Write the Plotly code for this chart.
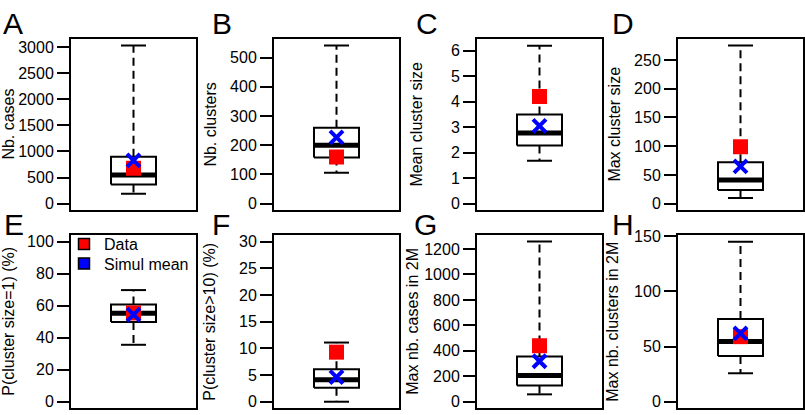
import plotly.graph_objects as go

panels = ["A", "B", "C", "D", "E", "F", "G", "H"]
ylabels = ["Nb. cases", "Nb. clusters", "Mean cluster size", "Max cluster size",
           "P(cluster size=1) (%)", "P(cluster size>10) (%)",
           "Max nb. cases in 2M", "Max nb. clusters in 2M"]
upper_whisker = [3030, 541, 6.19, 275, 69.8, 11.1, 1260, 145]
q3 = [900, 260, 3.5, 72, 60.8, 6.1, 356, 75]
median = [550, 200, 2.77, 41, 55.3, 4.1, 206, 54.5]
q1 = [370, 158, 2.28, 24, 49.9, 2.6, 127, 41.5]
lower_whisker = [190, 106, 1.68, 10, 35.6, 0, 58, 25.8]
data_vals = [680, 160, 4.2, 99, 55.5, 9.3, 440, 59]
sim_mean = [830, 227, 3.05, 65, 54.5, 4.6, 318, 62]
axis_max = [3030, 541, 6.2, 275, 100, 30, 1257, 145]
tick_step = [500, 100, 1, 50, 20, 5, 200, 50]
legend_names = ["Data", "Simul mean"]
legend_colors = ["#FF0000", "#0000FF"]

W, H = 805, 415
col_left = [71, 274, 477, 678]
col_w = 125
row_top = [32, 233]
row_bot = [207, 410]
title_x = [9, 211, 417, 615, 9, 210, 413, 613]
letter_x = [1, 210, 414, 610, 2, 210, 412, 610]
letter_yc = [16, 16, 16, 16, 222, 222, 222, 222]

FONT = "Liberation Sans, Arial, sans-serif"
fig = go.Figure()

box_half = 0.36
cap_half = 0.2

for i in range(8):
    r, c = divmod(i, 4)
    n = "" if i == 0 else str(i + 1)
    xa, ya = "x" + n, "y" + n
    x0, x1 = 1 - box_half, 1 + box_half
    # whiskers (dashed)
    fig.add_trace(go.Scatter(x=[1, 1], y=[q3[i], upper_whisker[i]], mode="lines",
                             line=dict(color="black", width=2, dash="8px,5px"),
                             xaxis=xa, yaxis=ya, showlegend=False, hoverinfo="skip"))
    fig.add_trace(go.Scatter(x=[1, 1], y=[q1[i], lower_whisker[i]], mode="lines",
                             line=dict(color="black", width=2, dash="8px,5px"),
                             xaxis=xa, yaxis=ya, showlegend=False, hoverinfo="skip"))
    # caps
    for v in (upper_whisker[i], lower_whisker[i]):
        fig.add_trace(go.Scatter(x=[1 - cap_half, 1 + cap_half], y=[v, v], mode="lines",
                                 line=dict(color="black", width=2),
                                 xaxis=xa, yaxis=ya, showlegend=False, hoverinfo="skip"))
    # box
    fig.add_trace(go.Scatter(x=[x0, x1, x1, x0, x0], y=[q1[i], q1[i], q3[i], q3[i], q1[i]],
                             mode="lines", fill="toself", fillcolor="white",
                             line=dict(color="black", width=2),
                             xaxis=xa, yaxis=ya, showlegend=False, hoverinfo="skip"))
    # median
    fig.add_trace(go.Scatter(x=[x0, x1], y=[median[i], median[i]], mode="lines",
                             line=dict(color="black", width=5),
                             xaxis=xa, yaxis=ya, showlegend=False, hoverinfo="skip"))
    # data point
    fig.add_trace(go.Scatter(x=[1], y=[data_vals[i]], mode="markers",
                             marker=dict(symbol="square", size=15, color="#FF0000",
                                         line=dict(width=0)),
                             xaxis=xa, yaxis=ya, showlegend=False))
    # simulation mean
    fig.add_trace(go.Scatter(x=[1], y=[sim_mean[i]], mode="markers",
                             marker=dict(symbol="x-thin", size=13,
                                         line=dict(width=4, color="#0000FF")),
                             xaxis=xa, yaxis=ya, showlegend=False))

    left = col_left[c]
    dom_x = [left / W, (left + col_w) / W]
    dom_y = [1 - row_bot[r] / H, 1 - row_top[r] / H]
    fig.layout["xaxis" + n] = dict(domain=dom_x, range=[0, 2], showticklabels=False,
                                   ticks="", showgrid=False, zeroline=False,
                                   showline=True, mirror=True, linecolor="black",
                                   linewidth=2, anchor=ya, fixedrange=True)
    fig.layout["yaxis" + n] = dict(domain=dom_y,
                                   range=[-0.04 * axis_max[i], 1.04 * axis_max[i]],
                                   tickmode="linear", tick0=0, dtick=tick_step[i],
                                   ticks="outside", ticklen=12, tickwidth=2,
                                   tickcolor="black", showgrid=False, zeroline=False,
                                   showline=True, mirror=True, linecolor="black",
                                   linewidth=2, anchor=xa, ticklabelstandoff=0,
                                   tickfont=dict(family=FONT, size=16, color="black"))
    fig.add_annotation(text=ylabels[i], x=title_x[i] / W, y=1 - (row_top[r] + row_bot[r]) / 2 / H,
                       xref="paper", yref="paper", textangle=-90, showarrow=False,
                       xanchor="center", yanchor="middle",
                       font=dict(family=FONT, size=16, color="black"))
    fig.add_annotation(text=panels[i], x=letter_x[i] / W, y=1 - letter_yc[i] / H,
                       xref="paper", yref="paper", showarrow=False,
                       xanchor="left", yanchor="middle",
                       font=dict(family=FONT, size=30, color="black"))

# legend entries (in panel E), one legend each for exact placement
legend_y_px = [242, 262]
for k in range(2):
    lg = "legend" if k == 0 else "legend2"
    fig.add_trace(go.Scatter(x=[None], y=[None], mode="markers", name=legend_names[k],
                             marker=dict(symbol="square", size=11, color=legend_colors[k],
                                         line=dict(width=1.5, color="black")),
                             xaxis="x5", yaxis="y5", showlegend=True, legend=lg))
    fig.layout[lg] = dict(x=64 / W, y=1 - legend_y_px[k] / H, xanchor="left", yanchor="middle",
                          bgcolor="rgba(0,0,0,0)",
                          font=dict(family=FONT, size=16, color="black"),
                          itemwidth=30)

fig.update_layout(
    width=W, height=H, margin=dict(l=0, r=0, t=0, b=0),
    paper_bgcolor="white", plot_bgcolor="white",
    showlegend=True,
)

fig.write_html("out.html", config={"displayModeBar": False},
               post_script="document.body.style.margin='0';document.body.style.overflow='hidden';")
